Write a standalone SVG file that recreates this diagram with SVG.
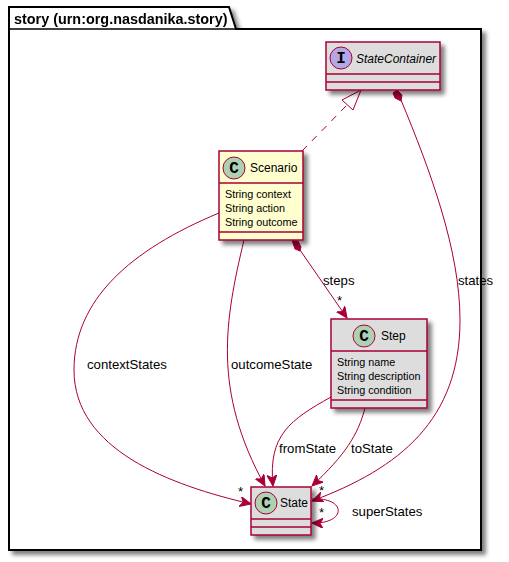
<svg xmlns="http://www.w3.org/2000/svg" width="509" height="562" viewBox="0 0 509 562">
<defs>
<filter id="sh" x="-20%" y="-20%" width="150%" height="150%"><feGaussianBlur in="SourceAlpha" stdDeviation="2"/><feOffset dx="4" dy="4"/><feColorMatrix type="matrix" values="0 0 0 0 0 0 0 0 0 0 0 0 0 0 0 0 0 0 0.5 0"/><feMerge><feMergeNode/><feMergeNode in="SourceGraphic"/></feMerge></filter>
<marker id="arrow" markerUnits="userSpaceOnUse" markerWidth="14" markerHeight="12" refX="11" refY="5" orient="auto"><path d="M0,0 L11,5 L0,10 L3,5 Z" fill="#A80036" stroke="#A80036"/></marker>
</defs>
<style>
text{font-family:"Liberation Sans",Arial,sans-serif;fill:#000}
.box{stroke:#A80036;stroke-width:1.5}
.g{fill:#DDDDDD}.y{fill:#FEFECE}
.div{stroke:#A80036;stroke-width:1.5;fill:none}
.circ{stroke:#A80036;stroke-width:1;fill:#ADD1B2}
.gl{font-family:"Liberation Mono",monospace;font-weight:bold;font-size:16px;text-anchor:middle}
.name{font-size:12px}.attr{font-size:10.8px}.lbl{font-size:13.2px}
.e{fill:none;stroke:#A80036;stroke-width:1}
</style>
<g id="package" filter="url(#sh)">
<path d="M9,29 V7 H229 L236,29 H481 V550 H9 Z" fill="#FFFFFF" stroke="#000" stroke-width="2"/>
<path d="M9,29 H236" fill="none" stroke="#000" stroke-width="1.5"/>
<text x="14" y="24" font-size="14.4" font-weight="bold">story (urn:org.nasdanika.story)</text>
</g>
<g id="connectors">
<path class="e" stroke-dasharray="7,7" d="M302,151 L347,105"/>
<path d="M361,90 L353,110 L342,100 Z" fill="#fff" stroke="#A80036"/>
<path class="e" d="M401,100 C430,170 460,250 460,320 C460,420 400,468 312,501" marker-end="url(#arrow)"/>
<path d="M397,90 L402,95 L401,101 L395,98 L393,93 Z" fill="#A80036" stroke="#A80036"/>
<path class="e" d="M219,213 C130,250 74,300 74,370 C74,450 170,485 251,504" marker-end="url(#arrow)"/>
<path class="e" d="M244,240 C225,320 212,390 265,486" marker-end="url(#arrow)"/>
<path class="e" d="M300,250 L347,318" marker-end="url(#arrow)"/>
<path d="M292,240 L298,241 L301,247 L300,251 L295,249 Z" fill="#A80036" stroke="#A80036"/>
<path class="e" d="M331,397 C290,420 268,435 273,486" marker-end="url(#arrow)"/>
<path class="e" d="M365,408 C358,435 345,455 312,486" marker-end="url(#arrow)"/>
<path class="e" d="M312,499 C347,497 347,524 312,523" marker-end="url(#arrow)"/>
<text class="lbl" x="458" y="285">states</text>
<text class="lbl" x="87" y="369">contextStates</text>
<text class="lbl" x="231" y="369">outcomeState</text>
<text class="lbl" x="323" y="285">steps</text>
<text class="lbl" x="337" y="305">*</text>
<text class="lbl" x="279" y="453">fromState</text>
<text class="lbl" x="351" y="453">toState</text>
<text class="lbl" x="352" y="516">superStates</text>
<text class="lbl" x="238" y="496">*</text>
<text class="lbl" x="319" y="495">*</text>
<text class="lbl" x="319" y="517">*</text>
</g>
<g id="StateContainer">
<rect class="box g" x="326" y="42" width="114" height="48" filter="url(#sh)"/>
<path class="div" d="M326,74 H440 M326,82 H440"/>
<circle class="circ" cx="341" cy="58" r="11" style="fill:#B4A7E5"/>
<text class="gl" x="341" y="63">I</text>
<text class="name" x="356" y="63" font-style="italic">StateContainer</text>
</g>
<g id="Scenario">
<rect class="box y" x="219" y="151" width="84" height="89" filter="url(#sh)"/>
<path class="div" d="M219,183 H303 M219,232 H303"/>
<circle class="circ" cx="234" cy="168" r="11"/>
<text class="gl" x="234" y="173">C</text>
<text class="name" x="250" y="172">Scenario</text>
<text class="attr" x="225" y="198">String context</text>
<text class="attr" x="225" y="212">String action</text>
<text class="attr" x="225" y="226">String outcome</text>
</g>
<g id="Step">
<rect class="box g" x="331" y="319" width="96" height="89" filter="url(#sh)"/>
<path class="div" d="M331,351 H427 M331,400 H427"/>
<circle class="circ" cx="364" cy="336" r="11"/>
<text class="gl" x="364" y="341">C</text>
<text class="name" x="381" y="340">Step</text>
<text class="attr" x="337" y="366">String name</text>
<text class="attr" x="337" y="380">String description</text>
<text class="attr" x="337" y="394">String condition</text>
</g>
<g id="State">
<rect class="box g" x="251" y="487" width="60" height="48" filter="url(#sh)"/>
<path class="div" d="M251,519 H311 M251,527 H311"/>
<circle class="circ" cx="266" cy="503" r="11"/>
<text class="gl" x="266" y="508">C</text>
<text class="name" x="280" y="507">State</text>
</g>
</svg>
